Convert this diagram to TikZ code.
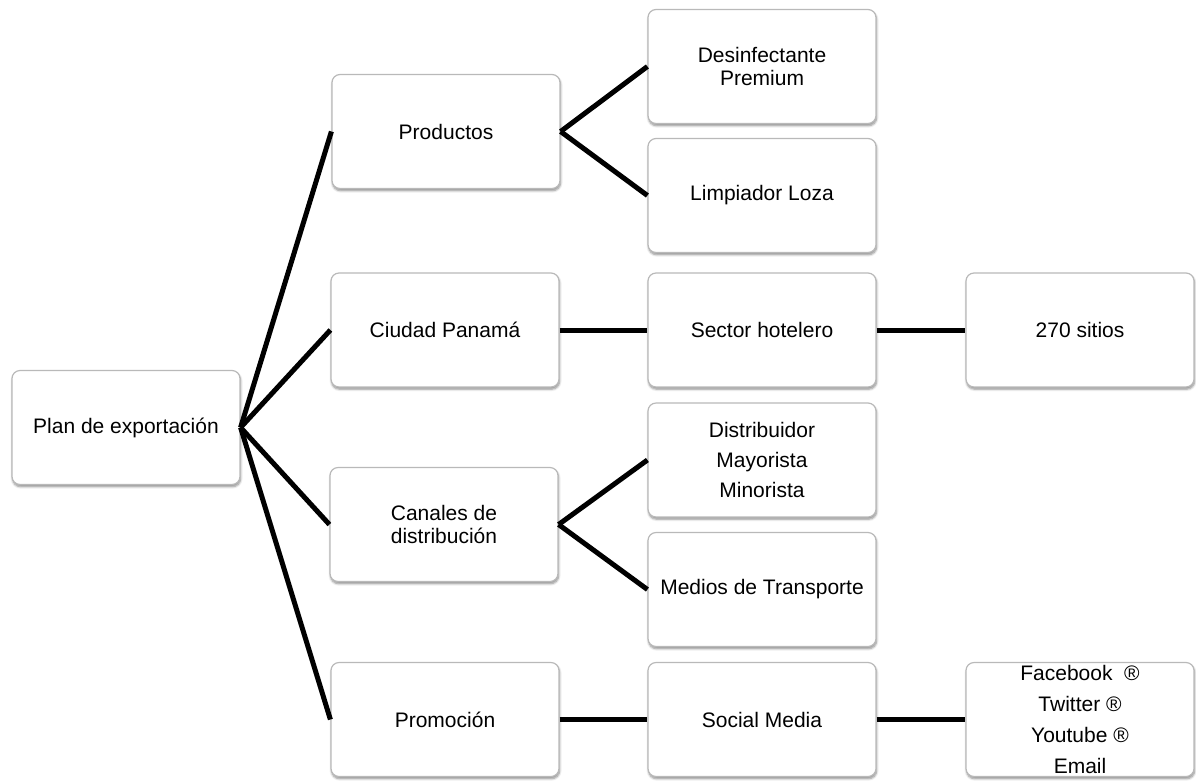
\documentclass[tikz,border=0pt]{standalone}
\usepackage{fontspec}
\setmainfont{Liberation Sans}
\usetikzlibrary{shadows.blur}
\definecolor{boxline}{RGB}{185,185,185}
\tikzset{
  card/.style={draw=boxline, line width=1.2pt, fill=white, rounded corners=8pt,
    minimum height=114pt, inner sep=2pt, align=center,
    font=\fontsize{21}{23}\selectfont,
    blur shadow={shadow xshift=0.6pt, shadow yshift=-2.2pt, shadow blur steps=6,
      shadow blur radius=2.2pt, shadow opacity=45}},
  wcard/.style={card, minimum width=228pt},
  link/.style={line width=5pt, black}
}
\begin{document}
\begin{tikzpicture}[x=1pt, y=-1pt]
\useasboundingbox (0,0) rectangle (1196,780);

% root
\node[wcard] (plan) at (126,427.5) {Plan de exportación};

% first level
\node[wcard] (prod) at (446,131.5) {Productos};
\node[wcard] (ciudad) at (445,330) {Ciudad Panamá};
\node[wcard] (canales) at (444,524.5) {Canales de\\distribución};
\node[wcard] (promo) at (445,719.5) {Promoción};

% second level
\node[wcard] (desinf) at (762,66.5) {Desinfectante\\Premium};
\node[wcard] (limp) at (762,195.5) {Limpiador Loza};
\node[wcard] (sector) at (762,330) {Sector hotelero};
\node[wcard] (distrib) at (762,460) {Distribuidor\\[7pt]Mayorista\\[7pt]Minorista};
\node[wcard] (medios) at (762,589.5) {Medios de Transporte};
\node[wcard] (social) at (762,719.5) {Social Media};

% third level
\node[wcard] (sitios) at (1080,330) {270 sitios};
\node[wcard] (redes) at (1080,719.5) {Facebook\ \ ®\\[8pt]Twitter ®\\[8pt]Youtube ®\\[8pt]Email};

% connectors
\foreach \c in {prod,ciudad,canales,promo}
  \draw[link] (plan.east) -- (\c.west);
\draw[link] (prod.east) -- (desinf.west);
\draw[link] (prod.east) -- (limp.west);
\draw[link] (ciudad.east) -- (sector.west);
\draw[link] (sector.east) -- (sitios.west);
\draw[link] (canales.east) -- (distrib.west);
\draw[link] (canales.east) -- (medios.west);
\draw[link] (promo.east) -- (social.west);
\draw[link] (social.east) -- (redes.west);
\end{tikzpicture}
\end{document}
